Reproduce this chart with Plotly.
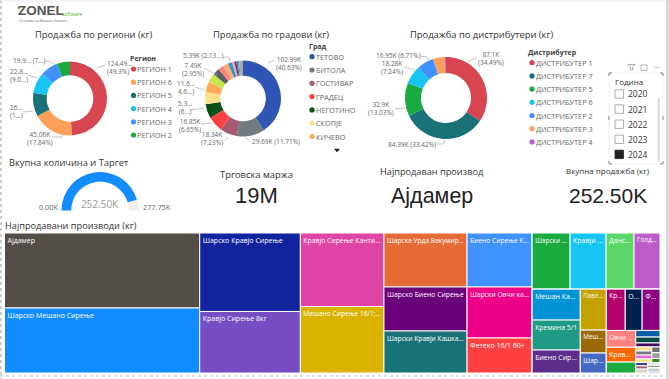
import plotly.graph_objects as go

W, H = 669, 379
FONT = "Open Sans"
DARK = "#333333"
LAB = "#666666"

# ---------- data ----------
region_names = ["РЕГИОН 1", "РЕГИОН 6", "РЕГИОН 5", "РЕГИОН 4", "РЕГИОН 3", "РЕГИОН 2"]
region_values = [124.49, 45.06, 26.0, 22.8, 19.9, 14.25]
region_colors = ["#D64550", "#FFA058", "#197278", "#15C6F4", "#4092FF", "#1AAB40"]
region_labels = ["124.49...<br>(49.3%)", "45.06K<br>(17.84%)", "26...<br>(1...)", "22.8...<br>(9.0...)", "19.9... (7...)"]

city_names = ["ТЕТОВО", "БИТОЛА", "ГОСТИВАР", "ГРАДЕЦ", "НЕГОТИНО", "СКОПЈЕ", "КИЧЕВО",
              "Г8", "Г9", "Г10", "Г11", "Г12", "Г13", "Г14", "Г15", "Г16", "Г17"]
city_values = [102.99, 29.69, 18.34, 16.85, 15.3, 13.0, 11.6, 9.2, 7.49, 6.2, 5.39, 4.5, 2.5, 2.0, 1.6, 1.5, 4.25]
city_colors = ["#2F55B5", "#737A80", "#A35A72", "#FF4040", "#0B5018", "#FFE08A", "#FFAA55",
               "#C6E84A", "#5A6268", "#FF8080", "#FFB070", "#3D8FCC", "#C8B8A0", "#A0156B", "#3070B0", "#50B0C0", "#A8A8A8"]
city_labels = ["102.99K<br>(40.63%)", "29.69K (11.71%)", "18.34K<br>(7.23%)", "16.85K<br>(6.65%)",
               "5.3...<br>(6...)", "11.6...<br>4.6...)", "7.49K<br>(2.95%)", "5.39K (2.13...)"]

dist_names = ["ДИСТРИБУТЕР 1", "ДИСТРИБУТЕР 7", "ДИСТРИБУТЕР 5", "ДИСТРИБУТЕР 6",
              "ДИСТРИБУТЕР 2", "ДИСТРИБУТЕР 3", "ДИСТРИБУТЕР 4"]
dist_values = [87.1, 84.39, 32.9, 18.28, 16.95, 11.9, 0.98]
dist_colors = ["#D64550", "#197278", "#1AAB40", "#15C6F4", "#4092FF", "#FFA058", "#BE5DC9"]
dist_labels = ["87.1K<br>(34.49%)", "84.39K (33.42%)", "32.9K<br>(13.03%)", "18.28K<br>(7.24%)", "16.95K (6.71%)"]

years = ["2020", "2021", "2022", "2023", "2024"]
years_selected = [False, False, False, False, True]

gauge_value = 252.5
gauge_max = 277.75

group_ids = ["root", "A", "B", "C", "D", "E", "R", "Rtop", "Rlow", "X", "Y", "Z", "Ztop", "Zlow",
             "Q", "T", "T1", "T2", "T3", "T4", "T5", "T6", "T7", "T8", "T9"]
group_parents = ["", "root", "root", "root", "root", "root", "root", "R", "R", "Rlow", "Rlow", "Rlow", "Z", "Z",
                 "Zlow", "Zlow", "T", "T", "T", "T1", "T1", "T2", "T2", "T3", "T3"]

product_labels = ["Ајдамер", "Шарско Мешано Сирење", "Шарско Кравјо Сирење", "Кравјо Сирење 8кг",
                  "Кравјо Сирење Канти...", "Мешано Сирење 16/1;...",
                  "Шарска Урда Вакумир...", "Шарско Биено Сирење", "Шарски Кравји Кашка...",
                  "Биено Сирење К...", "Шарски Овчи ка...", "Фетеко 16/1 60+",
                  "Шарски ...", "Кравји ...", "Данс...", "Голд...",
                  "Мешан Ка...", "Кремина 5/1", "Биено Сир...",
                  "Павл...", "Меш...", "Шар...",
                  "Кр...", "О...", "Ф...",
                  "Овчи ...", "Крав...", "",
                  "", "", "",
                  "", "", "", "",
                  "", "", "",
                  "", "", "",
                  "", "", "", "", "", ""]
product_values = [40240, 34875, 21700, 17010, 16890, 15280, 12330, 10050, 9590, 9660, 9120, 6260,
                  5855, 5550, 4315, 4005, 4095, 3960, 3040, 2935, 1645, 1430, 2145, 1920, 2030,
                  1355, 1195, 880, 440, 395, 265, 180, 180, 165, 165,
                  130, 130, 90, 110, 110, 130, 55, 55, 55, 55, 65, 65]
product_parents = ["A", "A", "B", "B", "C", "C", "D", "D", "D", "E", "E", "E",
                   "Rtop", "Rtop", "Rtop", "Rtop", "X", "X", "X", "Y", "Y", "Y",
                   "Ztop", "Ztop", "Ztop", "Q", "Q", "Q", "T5", "T5", "T5", "T6", "T6", "T6", "T6",
                   "T7", "T7", "T7", "T8", "T8", "T8", "T9", "T9", "T9", "T9", "T9", "T9"]
product_colors = ["#544E48", "#118DFF", "#12239E", "#744EC2", "#E044A7", "#D9B300",
                  "#E66C37", "#6B007B", "#197278", "#4092FF", "#EE0088", "#FF4040",
                  "#1AAB40", "#15C6F4", "#5BD667", "#BE5DC9", "#0093D5", "#1F9A85", "#5C2D8A",
                  "#C4A200", "#9A6A08", "#4668C5", "#B3006A", "#002050", "#8C0080",
                  "#FF8080", "#FF6600", "#1AAB40", "#0A5CA8", "#0B4A40", "#3F0F5F",
                  "#FFE08A", "#737A80", "#F060D0", "#FFE08A",
                  "#707070", "#9A9A9A", "#2B8B1F", "#30408F", "#A0657A", "#D8D0C0",
                  "#A0C0F0", "#C6E84A", "#505050", "#E0B070", "#3070B0", "#C0C0C0"]


# ---------- helpers ----------
def px(x):
    return x / W


def py(y):
    return 1 - y / H


def dom(cx, cy, r):
    return dict(x=[px(cx - r), px(cx + r)], y=[py(cy + r), py(cy - r)])


annotations = []
shapes = []


def text(x, y, s, size=8, color=LAB, anchor="left", font=FONT, bold=False):
    annotations.append(dict(x=px(x), y=py(y), xref="paper", yref="paper", text=f"<b>{s}</b>" if bold else s,
                            showarrow=False, xanchor=anchor, yanchor="middle", align=anchor if anchor != "middle" else "center",
                            font=dict(family=font, size=size, color=color), borderpad=0, borderwidth=0))


def path(pts, color="#B5B5B5", width=0.8, fill=None, close=False):
    d = "M " + " L ".join(f"{px(a):.5f},{py(b):.5f}" for a, b in pts) + (" Z" if close else "")
    shapes.append(dict(type="path", xref="paper", yref="paper", path=d,
                       line=dict(color=color, width=width), fillcolor=fill or "rgba(0,0,0,0)"))


def legend(title, names, colors, xtitle, ytitle, xdot, xtext, y0, step, size=7.3):
    text(xtitle, ytitle, title, size=7, color="#444444", bold=True)
    for i, (n, c) in enumerate(zip(names, colors)):
        y = y0 + i * step
        shapes.append(dict(type="circle", xref="paper", yref="paper", x0=px(xdot - 2.6), x1=px(xdot + 2.6),
                           y0=py(y + 2.6), y1=py(y - 2.6), fillcolor=c, line=dict(width=0)))
        text(xtext, y, n, size=size)


fig = go.Figure()


def donut(values, names, colors, cx, cy, r, hole):
    fig.add_trace(go.Pie(values=values, labels=names, marker=dict(colors=colors, line=dict(width=0)), hole=hole,
                         sort=False, direction="clockwise", rotation=0, textinfo="none", showlegend=False,
                         domain=dom(cx, cy, r), hoverinfo="label+value+percent"))


donut(region_values, region_names, region_colors, 70, 98.5, 37, 0.63)
donut(city_values, city_names, city_colors, 243, 98.5, 38, 0.6)
donut(dist_values, dist_names, dist_colors, 446, 98, 41, 0.61)

# gauge
fig.add_trace(go.Indicator(mode="gauge+number", value=gauge_value,
                           number=dict(suffix="K", valueformat=".2f", font=dict(size=10, color="#999999", family=FONT)),
                           gauge=dict(shape="angular", axis=dict(range=[0, gauge_max], visible=False),
                                      bar=dict(color="#118DFF", thickness=1), bgcolor="#F0EEEE", borderwidth=0),
                           domain=dict(x=[px(61), px(139)], y=[py(210.5), py(172)])))

# treemap
n = len(product_labels)
leaf_ids = [f"p{i}" for i in range(n)]
fig.add_trace(go.Treemap(
    ids=group_ids + leaf_ids,
    parents=group_parents + product_parents,
    labels=group_ids + leaf_ids,
    values=[0] * len(group_ids) + product_values,
    text=[""] * len(group_ids) + product_labels,
    texttemplate="%{text}",
    textposition="top left",
    textfont=dict(family=FONT, size=7, color="white"),
    branchvalues="remainder",
    sort=False,
    tiling=dict(packing="slice-dice", pad=0),
    pathbar=dict(visible=False),
    marker=dict(colors=["#FFFFFF"] * len(group_ids) + product_colors, pad=dict(t=0, l=0, r=0, b=0),
                line=dict(color="white", width=1), depthfade=False),
    hoverinfo="skip",
    domain=dict(x=[px(4.5), px(660)], y=[py(373), py(233)]),
))

# titles
text(93, 35, "Продажба по региони (кг)", size=9.3, color=DARK, anchor="center")
text(271, 35, "Продажба по градови (кг)", size=9.3, color=DARK, anchor="center")
text(481, 35, "Продажба по дистрибутери (кг)", size=9.4, color=DARK, anchor="center")
text(69, 162, "Вкупна количина и Таргет", size=9.3, color=DARK, anchor="center")
text(5, 225, "Најпродавани производи (кг)", size=9.2, color=DARK)

# KPI
text(256, 175, "Трговска маржа", size=9.4, color=DARK, anchor="center")
text(256, 195, "19M", size=22, color="#222222", anchor="center", font="Liberation Sans")
text(432, 171, "Најпродаван производ", size=9.2, color=DARK, anchor="center")
text(432, 196, "Ајдамер", size=21.5, color="#222222", anchor="center", font="Liberation Sans")
text(608, 170, "Вкупна продажба (кг)", size=8, color=DARK, anchor="center")
text(608, 195, "252.50K", size=21, color="#222222", anchor="center", font="Liberation Sans")

# gauge end labels
text(58, 207, "0.00K", size=7.3, anchor="right")
text(143, 207, "277.75K", size=7.3, anchor="left")

# logo
text(18, 10, "ZONEL", size=13.5, color="#555555", font="Liberation Sans", bold=True)
text(62, 14, "software", size=5, color="#5DA83A")
text(19, 20.5, "Со грижа за Вашиот бизнис...", size=3.5, color="#666666")
shapes.append(dict(type="circle", xref="paper", yref="paper", x0=px(17.5), x1=px(20), y0=py(9), y1=py(6.5),
                   fillcolor="#5DA83A", line=dict(width=0)))

# legends
legend("Регион", region_names, region_colors, 130, 58.7, 133.5, 137, 69, 13.2)
legend("Град", city_names[:7], city_colors[:7], 308.5, 46.7, 312, 316, 56.7, 13.3)
legend("Дистрибутер", dist_names, dist_colors, 528, 52.3, 532, 536, 62.7, 13.2)
path([(334.5, 149), (339.5, 149), (337, 152)], color="#222222", width=0.5, fill="#222222", close=True)

# outside labels
LS = 6.5
for (x, y, a), s in zip([(107, 68, "left"), (39.5, 139, "center"), (16, 112, "center"), (19, 75.5, "center"), (13, 61, "left")],
                        region_labels):
    text(x, y, s, size=LS, anchor=a)
for (x, y, a), s in zip([(289, 63, "center"), (252, 141.7, "left"), (212, 139, "center"), (190, 125.5, "center"),
                         (185, 107.5, "center"), (186, 87.5, "center"), (193, 69, "center"), (183, 56, "left")], city_labels):
    text(x, y, s, size=LS, anchor=a)
for (x, y, a), s in zip([(491, 58.5, "center"), (388, 144, "left"), (381, 109, "center"), (392, 68, "center"), (376, 56, "left")],
                        dist_labels):
    text(x, y, s, size=LS, anchor=a)

for p in [[(97, 68), (105, 65)], [(52, 137), (62, 137), (64, 134)], [(23, 112), (33, 111)], [(28, 75), (37, 78)],
          [(44, 61), (50, 61), (55, 65)],
          [(268, 63), (275, 60)], [(245, 137), (250, 141.5)], [(224, 141), (228, 137)], [(201, 124), (212, 123)],
          [(190, 110), (204, 108)], [(195, 87), (204, 90)], [(204, 68), (217, 75)], [(223, 57), (229, 57), (230, 62)],
          [(468, 62), (477, 57)], [(436, 144), (443, 144), (445, 140)], [(395, 109), (405, 108)], [(404, 67), (415, 70)],
          [(420, 56), (427, 57), (429, 60)]]:
    path(p)

# slicer
shapes.append(dict(type="rect", xref="paper", yref="paper", x0=px(609), x1=px(663), y0=py(164), y1=py(73),
                   fillcolor="white", line=dict(color="#E4E4E4", width=0.6), layer="above"))
for cx, cy, dx, dy in [(609, 73, 1, 1), (663, 73, -1, 1), (609, 164, 1, -1), (663, 164, -1, -1)]:
    path([(cx + 3 * dx, cy), (cx, cy), (cx, cy + 3 * dy)], color="#888888", width=1)
path([(609, 116), (609, 120)], color="#888888", width=1)
path([(663, 116), (663, 120)], color="#888888", width=1)
text(615, 81, "Година", size=8, color="#333333")
for i, (yr, sel) in enumerate(zip(years, years_selected)):
    y = 94 + i * 15.1
    shapes.append(dict(type="rect", xref="paper", yref="paper", x0=px(615), x1=px(623.5), y0=py(y + 4.2), y1=py(y - 4.2),
                       fillcolor="#222222" if sel else "white", line=dict(color="#9A9A9A" if not sel else "#222222", width=0.8)))
    text(627.5, y, yr, size=8.5, color="#333333")
shapes.append(dict(type="rect", xref="paper", yref="paper", x0=px(657.5), x1=px(660), y0=py(162), y1=py(98),
                   fillcolor="#DDDDDD", line=dict(width=0)))
path([(628, 64.5), (635, 64.5), (632.5, 67.5), (632.5, 70), (630.5, 70), (630.5, 67.5)], color="#888888", width=0.7, close=True)
path([(641, 65), (647, 65), (647, 70.5), (641, 70.5)], color="#999999", width=0.7, close=True)
text(657, 66.5, "···", size=8, color="#555555", anchor="center")

# page edges
path([(1, 0), (1, 379)], color="#CCCCCC", width=2)
shapes[-1]["line"]["dash"] = "dot"
path([(0, 1), (669, 1)], color="#EAEAEA", width=1)
path([(0, 376), (666, 376)], color="#BBBBBB", width=1)
shapes[-1]["line"]["dash"] = "dot"
shapes.append(dict(type="rect", xref="paper", yref="paper", x0=px(666), x1=1, y0=0, y1=1, fillcolor="#DADADA", line=dict(width=0)))

fig.update_layout(width=W, height=H, margin=dict(l=0, r=0, t=0, b=0), paper_bgcolor="white", plot_bgcolor="white",
                  annotations=annotations, shapes=shapes, showlegend=False, font=dict(family=FONT),
                  xaxis=dict(visible=False), yaxis=dict(visible=False))
fig.write_html("out.html", config=dict(displayModeBar=False),
               post_script="document.body.style.margin='0';document.body.style.overflow='hidden';")
